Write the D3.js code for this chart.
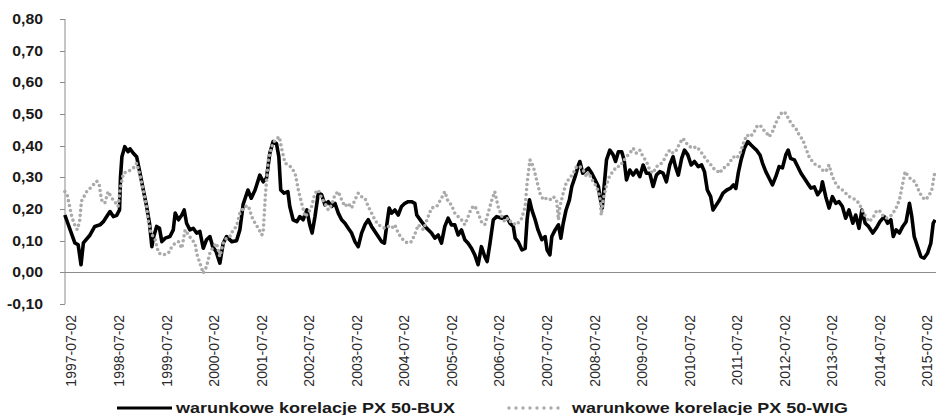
<!DOCTYPE html>
<html>
<head>
<meta charset="utf-8">
<script src="https://cdn.jsdelivr.net/npm/d3@7"></script>
<style>
  html, body { margin: 0; padding: 0; background: #fff; }
  svg { display: block; font-family: "Liberation Sans", Arial, sans-serif; }
</style>
</head>
<body>
<div id="chart"></div>
<script>
// tick labels
var xLabels = ["1997-07-02","1998-07-02","1999-07-02","2000-07-02","2001-07-02","2002-07-02",
  "2003-07-02","2004-07-02","2005-07-02","2006-07-02","2007-07-02","2008-07-02","2009-07-02",
  "2010-07-02","2011-07-02","2012-07-02","2013-07-02","2014-07-02","2015-07-02"];
var yTicks = [-0.1, 0, 0.1, 0.2, 0.3, 0.4, 0.5, 0.6, 0.7, 0.8];
var seriesNames = ["warunkowe korelacje PX 50-BUX", "warunkowe korelacje PX 50-WIG"];

// [time in years, correlation]
var bux = [
  [1997.36,0.181],[1997.57,0.093],[1997.64,0.087],[1997.70,0.024],[1997.75,0.093],[1997.89,0.118],
  [1997.99,0.145],[1998.10,0.150],[1998.17,0.160],[1998.24,0.176],[1998.31,0.192],[1998.38,0.176],
  [1998.45,0.180],[1998.51,0.197],[1998.53,0.300],[1998.56,0.365],[1998.62,0.397],[1998.69,0.381],
  [1998.73,0.390],[1998.80,0.376],[1998.87,0.365],[1998.94,0.313],[1999.01,0.260],[1999.08,0.208],
  [1999.14,0.155],[1999.19,0.081],[1999.22,0.108],[1999.29,0.145],[1999.35,0.139],[1999.40,0.097],
  [1999.47,0.108],[1999.57,0.113],[1999.64,0.134],[1999.68,0.187],[1999.75,0.166],[1999.82,0.181],
  [1999.87,0.197],[1999.92,0.155],[1999.99,0.134],[2000.06,0.139],[2000.13,0.124],[2000.20,0.129],
  [2000.27,0.076],[2000.34,0.103],[2000.41,0.113],[2000.47,0.081],[2000.54,0.066],[2000.62,0.029],
  [2000.69,0.092],[2000.76,0.113],[2000.87,0.097],[2000.97,0.100],[2001.04,0.134],[2001.11,0.215],
  [2001.21,0.260],[2001.28,0.234],[2001.36,0.260],[2001.46,0.307],[2001.53,0.286],[2001.60,0.297],
  [2001.67,0.376],[2001.74,0.413],[2001.81,0.407],[2001.86,0.365],[2001.90,0.260],[2001.97,0.250],
  [2002.05,0.255],[2002.09,0.208],[2002.16,0.166],[2002.24,0.160],[2002.30,0.176],[2002.37,0.166],
  [2002.45,0.197],[2002.51,0.150],[2002.56,0.124],[2002.62,0.176],[2002.69,0.250],[2002.76,0.245],
  [2002.83,0.213],[2002.90,0.223],[2002.97,0.208],[2003.04,0.218],[2003.11,0.187],[2003.18,0.166],
  [2003.25,0.155],[2003.32,0.139],[2003.39,0.124],[2003.46,0.097],[2003.53,0.081],[2003.60,0.124],
  [2003.67,0.150],[2003.74,0.166],[2003.81,0.145],[2003.88,0.129],[2003.95,0.113],[2004.02,0.097],
  [2004.08,0.092],[2004.13,0.150],[2004.18,0.203],[2004.23,0.187],[2004.30,0.197],[2004.37,0.181],
  [2004.44,0.208],[2004.51,0.218],[2004.58,0.223],[2004.65,0.223],[2004.72,0.218],[2004.76,0.181],
  [2004.86,0.160],[2004.97,0.139],[2005.07,0.124],[2005.14,0.108],[2005.21,0.118],[2005.28,0.092],
  [2005.35,0.145],[2005.42,0.171],[2005.49,0.150],[2005.56,0.150],[2005.63,0.118],[2005.70,0.134],
  [2005.77,0.103],[2005.84,0.092],[2005.91,0.076],[2005.98,0.055],[2006.05,0.024],[2006.12,0.081],
  [2006.19,0.050],[2006.24,0.034],[2006.30,0.092],[2006.37,0.166],[2006.44,0.176],[2006.55,0.171],
  [2006.65,0.176],[2006.72,0.155],[2006.79,0.145],[2006.83,0.108],[2006.89,0.097],[2006.97,0.071],
  [2007.04,0.076],[2007.08,0.166],[2007.13,0.229],[2007.18,0.197],[2007.25,0.166],[2007.31,0.134],
  [2007.39,0.103],[2007.46,0.113],[2007.50,0.071],[2007.56,0.055],[2007.60,0.113],[2007.67,0.134],
  [2007.74,0.150],[2007.79,0.108],[2007.84,0.155],[2007.90,0.197],[2007.97,0.229],[2008.02,0.271],
  [2008.09,0.302],[2008.16,0.339],[2008.19,0.350],[2008.25,0.313],[2008.32,0.323],[2008.37,0.329],
  [2008.44,0.313],[2008.51,0.292],[2008.58,0.271],[2008.61,0.239],[2008.66,0.203],[2008.70,0.271],
  [2008.75,0.355],[2008.82,0.386],[2008.89,0.371],[2008.94,0.350],[2009.00,0.381],[2009.07,0.381],
  [2009.12,0.355],[2009.17,0.292],[2009.24,0.323],[2009.31,0.307],[2009.38,0.323],[2009.45,0.302],
  [2009.52,0.339],[2009.59,0.313],[2009.66,0.313],[2009.73,0.271],[2009.80,0.307],[2009.87,0.318],
  [2009.94,0.313],[2010.01,0.286],[2010.08,0.339],[2010.15,0.365],[2010.20,0.334],[2010.26,0.307],
  [2010.33,0.360],[2010.39,0.386],[2010.46,0.371],[2010.53,0.339],[2010.60,0.350],[2010.68,0.334],
  [2010.75,0.339],[2010.81,0.318],[2010.87,0.260],[2010.94,0.239],[2010.99,0.197],[2011.06,0.213],
  [2011.13,0.229],[2011.20,0.250],[2011.28,0.260],[2011.35,0.265],[2011.42,0.276],[2011.47,0.265],
  [2011.52,0.313],[2011.58,0.355],[2011.65,0.392],[2011.72,0.413],[2011.79,0.402],[2011.86,0.392],
  [2011.91,0.385],[2011.98,0.370],[2012.03,0.345],[2012.10,0.318],[2012.17,0.297],[2012.24,0.276],
  [2012.31,0.302],[2012.38,0.334],[2012.45,0.330],[2012.52,0.371],[2012.57,0.386],[2012.62,0.360],
  [2012.70,0.355],[2012.77,0.334],[2012.84,0.313],[2012.91,0.297],[2012.98,0.281],[2013.05,0.266],
  [2013.12,0.270],[2013.19,0.245],[2013.26,0.260],[2013.29,0.286],[2013.36,0.239],[2013.43,0.203],
  [2013.50,0.239],[2013.57,0.218],[2013.64,0.223],[2013.71,0.208],[2013.78,0.171],[2013.85,0.197],
  [2013.93,0.155],[2013.99,0.181],[2014.06,0.139],[2014.12,0.197],[2014.19,0.155],[2014.26,0.145],
  [2014.35,0.124],[2014.42,0.139],[2014.50,0.160],[2014.59,0.176],[2014.66,0.155],[2014.73,0.166],
  [2014.78,0.113],[2014.84,0.134],[2014.91,0.124],[2014.98,0.145],[2015.05,0.160],[2015.12,0.218],
  [2015.17,0.176],[2015.22,0.113],[2015.29,0.081],[2015.36,0.050],[2015.43,0.045],[2015.50,0.060],
  [2015.57,0.092],[2015.62,0.155],[2015.66,0.166]
];

var wig = [
  [1997.36,0.255],[1997.41,0.245],[1997.45,0.215],[1997.50,0.180],[1997.55,0.155],[1997.62,0.135],
  [1997.67,0.160],[1997.71,0.225],[1997.82,0.255],[1997.92,0.270],[1998.03,0.288],[1998.08,0.280],
  [1998.13,0.229],[1998.20,0.218],[1998.27,0.255],[1998.35,0.234],[1998.41,0.223],[1998.48,0.208],
  [1998.52,0.260],[1998.59,0.313],[1998.69,0.318],[1998.80,0.329],[1998.87,0.345],[1998.94,0.307],
  [1999.01,0.260],[1999.08,0.208],[1999.11,0.166],[1999.17,0.124],[1999.26,0.103],[1999.33,0.061],
  [1999.43,0.055],[1999.54,0.061],[1999.61,0.081],[1999.68,0.092],[1999.75,0.097],[1999.82,0.076],
  [1999.89,0.134],[1999.96,0.118],[2000.03,0.103],[2000.10,0.092],[2000.13,0.061],[2000.20,0.029],
  [2000.27,-0.003],[2000.34,0.018],[2000.41,0.061],[2000.48,0.081],[2000.55,0.092],[2000.62,0.050],
  [2000.69,0.092],[2000.76,0.108],[2000.83,0.113],[2000.90,0.134],[2000.97,0.145],[2001.04,0.187],
  [2001.15,0.208],[2001.22,0.210],[2001.29,0.176],[2001.36,0.155],[2001.43,0.139],[2001.50,0.118],
  [2001.53,0.124],[2001.58,0.250],[2001.64,0.355],[2001.71,0.397],[2001.78,0.418],[2001.87,0.428],
  [2001.92,0.390],[2001.99,0.345],[2002.06,0.339],[2002.14,0.329],[2002.21,0.307],[2002.27,0.260],
  [2002.34,0.218],[2002.41,0.176],[2002.48,0.187],[2002.55,0.208],[2002.62,0.250],[2002.69,0.260],
  [2002.76,0.234],[2002.83,0.218],[2002.90,0.197],[2002.97,0.213],[2003.04,0.245],[2003.11,0.255],
  [2003.18,0.229],[2003.25,0.208],[2003.32,0.218],[2003.39,0.203],[2003.46,0.229],[2003.53,0.250],
  [2003.60,0.239],[2003.67,0.234],[2003.74,0.208],[2003.81,0.187],[2003.88,0.166],[2003.95,0.150],
  [2004.02,0.145],[2004.09,0.139],[2004.16,0.145],[2004.23,0.139],[2004.30,0.150],[2004.37,0.124],
  [2004.44,0.108],[2004.51,0.097],[2004.58,0.092],[2004.65,0.097],[2004.72,0.120],[2004.79,0.150],
  [2004.90,0.135],[2005.00,0.176],[2005.07,0.203],[2005.18,0.208],[2005.28,0.234],[2005.35,0.255],
  [2005.42,0.223],[2005.49,0.213],[2005.56,0.187],[2005.63,0.176],[2005.70,0.166],[2005.77,0.150],
  [2005.84,0.176],[2005.91,0.203],[2005.98,0.210],[2006.05,0.187],[2006.12,0.160],[2006.19,0.150],
  [2006.26,0.187],[2006.34,0.229],[2006.40,0.255],[2006.47,0.208],[2006.55,0.176],[2006.61,0.160],
  [2006.68,0.171],[2006.76,0.155],[2006.86,0.150],[2006.97,0.171],[2007.04,0.208],[2007.08,0.281],
  [2007.14,0.355],[2007.21,0.334],[2007.28,0.292],[2007.35,0.250],[2007.42,0.229],[2007.49,0.234],
  [2007.56,0.229],[2007.63,0.239],[2007.70,0.229],[2007.74,0.166],[2007.77,0.208],[2007.84,0.250],
  [2007.91,0.286],[2007.98,0.297],[2008.05,0.313],[2008.12,0.334],[2008.19,0.334],[2008.26,0.323],
  [2008.33,0.302],[2008.37,0.315],[2008.47,0.286],[2008.54,0.271],[2008.61,0.239],[2008.64,0.181],
  [2008.68,0.229],[2008.75,0.276],[2008.82,0.307],[2008.89,0.318],[2008.96,0.334],[2009.03,0.334],
  [2009.10,0.350],[2009.17,0.365],[2009.24,0.376],[2009.31,0.392],[2009.38,0.376],[2009.45,0.386],
  [2009.52,0.365],[2009.59,0.350],[2009.66,0.323],[2009.73,0.313],[2009.80,0.334],[2009.87,0.339],
  [2009.94,0.350],[2010.01,0.371],[2010.08,0.386],[2010.15,0.376],[2010.22,0.386],[2010.29,0.408],
  [2010.36,0.423],[2010.43,0.408],[2010.50,0.397],[2010.57,0.392],[2010.64,0.397],[2010.71,0.386],
  [2010.78,0.371],[2010.85,0.355],[2010.92,0.345],[2010.99,0.329],[2011.06,0.323],[2011.13,0.313],
  [2011.20,0.329],[2011.28,0.334],[2011.35,0.350],[2011.42,0.365],[2011.49,0.360],[2011.56,0.376],
  [2011.63,0.408],[2011.70,0.434],[2011.77,0.428],[2011.84,0.439],[2011.91,0.460],[2011.98,0.465],
  [2012.05,0.450],[2012.10,0.444],[2012.17,0.428],[2012.24,0.444],[2012.31,0.471],[2012.38,0.492],
  [2012.45,0.507],[2012.52,0.502],[2012.59,0.481],[2012.66,0.465],[2012.73,0.455],[2012.80,0.434],
  [2012.88,0.418],[2012.94,0.392],[2013.01,0.365],[2013.08,0.350],[2013.15,0.339],[2013.22,0.335],
  [2013.29,0.323],[2013.36,0.318],[2013.43,0.339],[2013.50,0.302],[2013.57,0.281],[2013.64,0.266],
  [2013.71,0.260],[2013.78,0.250],[2013.85,0.239],[2013.93,0.234],[2013.99,0.229],[2014.06,0.218],
  [2014.14,0.192],[2014.20,0.176],[2014.27,0.160],[2014.35,0.171],[2014.42,0.192],[2014.48,0.197],
  [2014.55,0.181],[2014.63,0.171],[2014.70,0.176],[2014.75,0.181],[2014.84,0.203],[2014.91,0.229],
  [2014.98,0.281],[2015.03,0.318],[2015.10,0.302],[2015.17,0.292],[2015.24,0.286],[2015.31,0.260],
  [2015.38,0.239],[2015.45,0.229],[2015.52,0.239],[2015.59,0.260],[2015.66,0.323]
];

var width = 936, height = 415;

var svg = d3.select("#chart").append("svg")
  .attr("width", width)
  .attr("height", height);

// scales: category labels sit at mid-year (July 2nd)
var x = d3.scaleLinear().domain([1997.5, 2015.5]).range([71.5, 927.5]);
var y = d3.scaleLinear().domain([-0.1, 0.8]).range([304, 19]);

var axisColor = "#8c8c8c";

// y axis
var yAxis = svg.append("g").attr("transform", "translate(65,0)");
yAxis.append("line")
  .attr("x1", 0).attr("x2", 0)
  .attr("y1", y(0.8)).attr("y2", y(-0.1))
  .attr("stroke", axisColor).attr("stroke-width", 1);
yAxis.selectAll("line.tick")
  .data(yTicks)
  .enter().append("line")
  .attr("class", "tick")
  .attr("x1", -5).attr("x2", 0)
  .attr("y1", function (d) { return Math.round(y(d)) + 0.5; })
  .attr("y2", function (d) { return Math.round(y(d)) + 0.5; })
  .attr("stroke", axisColor);
yAxis.selectAll("text")
  .data(yTicks)
  .enter().append("text")
  .attr("transform", function (d) { return "translate(-22," + y(d) + ") scale(1.13,1)"; })
  .attr("dy", "0.36em")
  .attr("text-anchor", "end")
  .style("font-size", "14px")
  .style("font-weight", "bold")
  .attr("fill", "#1a1a1a")
  .text(function (d) { return d3.format(".2f")(d).replace(".", ",").replace("−", "-"); });

// zero line (category axis)
svg.append("line")
  .attr("x1", 65).attr("x2", width)
  .attr("y1", Math.round(y(0)) + 0.5).attr("y2", Math.round(y(0)) + 0.5)
  .attr("stroke", axisColor).attr("stroke-width", 1);

// x labels, rotated
svg.selectAll("text.xlab")
  .data(xLabels)
  .enter().append("text")
  .attr("class", "xlab")
  .attr("transform", function (d) {
    var t = +d.slice(0, 4) + 0.5;
    return "translate(" + x(t) + ",315) rotate(-90)";
  })
  .attr("dy", "0.35em")
  .attr("text-anchor", "end")
  .style("font-size", "14px")
  .attr("fill", "#2a2a2a")
  .text(function (d) { return d; });

var line = d3.line()
  .x(function (d) { return x(d[0]); })
  .y(function (d) { return y(d[1]); });

svg.append("path")
  .datum(bux)
  .attr("d", line)
  .attr("fill", "none")
  .attr("stroke", "#000")
  .attr("stroke-width", 3.6)
  .attr("stroke-linejoin", "round");

svg.append("path")
  .datum(wig)
  .attr("d", line)
  .attr("fill", "none")
  .attr("stroke", "#aaaaaa")
  .attr("stroke-width", 3.6)
  .attr("stroke-linecap", "round")
  .attr("stroke-dasharray", "0 5");

// legend
var legend = svg.append("g");
legend.append("line")
  .attr("x1", 117).attr("x2", 172).attr("y1", 408).attr("y2", 408)
  .attr("stroke", "#000").attr("stroke-width", 3);
legend.append("line")
  .attr("x1", 509).attr("x2", 560).attr("y1", 408).attr("y2", 408)
  .attr("stroke", "#aaaaaa").attr("stroke-width", 3.4)
  .attr("stroke-linecap", "round").attr("stroke-dasharray", "0 7");
legend.selectAll("text")
  .data(seriesNames)
  .enter().append("text")
  .attr("x", function (d, i) { return i === 0 ? 176 : 572; })
  .attr("y", 413)
  .attr("textLength", function (d, i) { return i === 0 ? 279 : 276; })
  .attr("lengthAdjust", "spacingAndGlyphs")
  .style("font-size", "14px")
  .style("font-weight", "bold")
  .attr("fill", "#1a1a1a")
  .text(function (d) { return d; });
</script>
</body>
</html>
